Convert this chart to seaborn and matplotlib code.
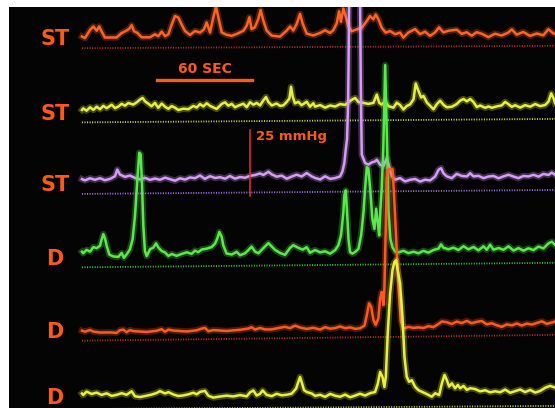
import numpy as np
import matplotlib.pyplot as plt
import seaborn as sns

# Canal 1: ST (naranja) - tiempo en s, presion en mmHg
st1_t = [0, 1.9, 5.1, 7.2, 9.3, 10.9, 12.4, 14.5, 21.9, 25.1, 28.2, 29.9, 31.4, 32.9, 35.0, 37.7,
         43.0, 46.1, 48.2, 50.4, 52.5, 54.6, 56.7, 58.8, 60.9, 63.0, 65.1, 68.3, 71.4, 74.6, 77.1,
         78.8, 80.9, 83.0, 84.7, 86.2, 88.3, 91.4, 94.6, 97.8, 102.0, 104.1, 105.8, 107.2, 109.3,
         111.4, 112.9, 114.6, 116.7, 119.9, 125.1, 129.4, 131.5, 133.5, 135.7, 137.8, 139.5, 142.0,
         146.2, 150.4, 153.6, 156.8, 158.8, 161.0, 162.5, 163.6, 165.2, 166.6, 168.3, 170.4, 173.6,
         176.8, 179.9, 182.0, 184.1, 185.6, 187.3, 189.4, 191.9, 194.7, 197.8, 201.0, 203.1, 206.2,
         210.5, 213.6, 216.8, 219.9, 223.1, 225.6, 228.4, 231.5, 236.8, 240.0, 243.1, 246.3, 249.4,
         252.6, 256.8, 261.0, 265.2, 269.4, 271.6, 274.7, 278.9, 283.1, 287.4, 291.5, 294.7, 297.9, 299]
st1_p = [4.4, 3.8, 6.9, 8.2, 6.6, 8.2, 6.3, 4.0, 4.0, 5.7, 6.6, 7.3, 8.6, 6.3, 5.7, 4.0,
         4.0, 5.1, 4.4, 6.1, 4.4, 5.1, 8.8, 12.0, 11.4, 8.8, 6.3, 4.8, 6.3, 5.7, 6.9,
         9.5, 5.7, 11.4, 15.4, 11.4, 5.7, 4.8, 4.4, 5.1, 6.3, 8.2, 11.4, 6.9, 7.6,
         10.7, 14.1, 10.1, 6.3, 4.4, 4.0, 6.3, 7.8, 6.3, 8.8, 12.6, 8.8, 5.1,
         4.4, 5.3, 6.3, 5.3, 6.3, 9.0, 13.5, 9.5, 14.5, 11.6, 7.8, 5.9, 6.6,
         7.2, 9.7, 11.6, 10.4, 12.2, 10.4, 7.2, 5.3, 5.9, 4.7, 5.3, 3.4, 5.3,
         6.6, 4.7, 5.6, 4.0, 5.3, 7.2, 5.3, 5.9, 6.3, 4.7, 5.3, 4.0, 5.3,
         4.7, 3.4, 4.7, 4.0, 5.1, 6.3, 4.3, 5.3, 3.8, 4.7, 4.0, 6.3, 4.7, 4.5]

# Canal 2: ST (amarillo)
st2_t = [0, 0.8, 2.9, 5.1, 7.2, 9.3, 11.4, 13.5, 15.6, 18.8, 20.9, 23.0, 25.1, 27.2, 29.3, 32.4,
         34.5, 36.7, 38.3, 39.8, 41.9, 44.0, 46.1, 48.2, 50.4, 52.5, 54.6, 56.7, 58.8, 60.9, 64.0,
         67.2, 70.4, 72.5, 74.6, 76.7, 78.8, 80.9, 83.0, 85.1, 88.3, 90.4, 92.5, 94.6, 96.7, 98.8,
         102.0, 104.1, 106.2, 108.3, 110.4, 112.5, 114.6, 116.3, 117.8, 119.9, 123.0, 125.2, 127.3,
         129.4, 131.1, 132.1, 133.2, 134.6, 136.7, 138.8, 142.0, 144.1, 146.2, 147.3, 150.5, 153.6,
         156.8, 160.0, 163.1, 166.3, 168.4, 170.5, 172.6, 174.7, 177.9, 181.0, 184.2, 186.3, 187.8,
         189.4, 191.5, 193.7, 196.8, 198.9, 201.0, 203.1, 205.2, 207.3, 209.5, 210.9, 212.6, 214.3,
         215.8, 217.9, 220.0, 222.1, 224.2, 226.3, 228.4, 230.5, 233.7, 236.8, 239.0, 241.1, 243.2,
         245.3, 247.4, 249.5, 251.6, 254.8, 256.9, 259.0, 262.1, 265.3, 267.4, 269.5, 271.6, 273.7,
         276.9, 280.0, 283.2, 286.4, 289.5, 292.7, 294.8, 296.5, 298.0, 299.0]
st2_p = [4.7, 5.3, 4.4, 5.7, 4.7, 5.9, 4.9, 6.2, 5.3, 6.6, 5.3, 5.9, 6.9, 6.2, 7.2, 6.6,
         7.4, 8.5, 9.1, 7.8, 6.9, 5.9, 7.2, 5.3, 6.9, 5.7, 4.9, 5.9, 5.3, 4.4, 4.9,
         4.7, 5.9, 5.3, 6.6, 5.7, 6.9, 5.9, 5.3, 4.7, 6.6, 7.2, 5.9, 6.6, 5.3, 5.9,
         6.6, 5.3, 7.2, 6.2, 6.9, 5.9, 7.8, 9.1, 7.2, 5.9, 6.6, 5.7, 5.9,
         7.2, 8.5, 12.9, 9.1, 6.6, 7.2, 5.9, 7.2, 5.3, 6.6, 5.3, 5.9, 4.9,
         5.7, 5.3, 6.2, 5.9, 6.9, 7.8, 8.5, 6.9, 6.6, 6.2, 6.6, 9.7, 6.6,
         5.9, 7.2, 5.3, 4.7, 6.6, 5.7, 4.0, 5.3, 5.9, 7.8, 13.8, 11.0, 8.5,
         9.1, 6.6, 5.3, 4.0, 5.9, 7.2, 5.7, 4.7, 4.9, 5.9, 7.2, 7.8, 6.9,
         7.8, 6.6, 4.7, 5.3, 4.4, 4.9, 4.4, 4.9, 5.3, 6.6, 5.7, 4.7, 5.3,
         4.4, 5.3, 4.7, 5.7, 4.9, 5.3, 6.6, 9.7, 7.8, 5.9]

# Canal 3: ST (violeta)
st3_t = [0, 1.9, 5.1, 8.2, 11.4, 14.5, 17.7, 20.9, 22.3, 24.0, 27.2, 30.3, 33.5, 36.7, 39.8, 43.0,
         46.1, 49.3, 52.5, 55.6, 58.8, 62.0, 65.1, 68.3, 71.4, 74.6, 77.7, 80.9, 84.1, 87.2, 90.4,
         93.5, 96.7, 99.9, 103.0, 106.2, 109.4, 112.5, 114.6, 117.8, 119.9, 123.0, 126.2, 129.4,
         132.5, 135.7, 138.8, 142.0, 145.2, 147.3, 150.5, 153.6, 156.8, 160.0, 163.1, 164.6, 165.8,
         166.7, 167.5, 168.2, 169.5, 175.2, 176.2, 176.8, 178.9, 181.0, 183.1, 185.2, 186.3, 188.4,
         190.5, 192.6, 194.1, 195.8, 197.9, 201.0, 204.2, 207.3, 210.5, 213.7, 216.8, 220.0, 223.2,
         225.3, 226.9, 228.4, 230.5, 233.7, 236.8, 240.0, 243.2, 245.3, 247.4, 250.5, 253.7, 256.9,
         260.0, 263.2, 266.3, 269.5, 272.7, 275.8, 279.0, 282.1, 285.3, 288.5, 291.6, 294.8, 296.9, 299.0]
st3_p = [5.6, 5.1, 5.9, 5.3, 5.9, 5.1, 5.6, 6.6, 9.1, 7.2, 6.3, 6.8, 5.9, 5.3, 5.9, 5.1,
         5.6, 5.1, 5.9, 5.3, 4.7, 5.6, 5.1, 5.9, 5.6, 6.6, 5.3, 6.3, 5.6, 5.9, 5.3,
         6.3, 5.3, 5.9, 5.6, 6.3, 6.6, 7.2, 6.6, 7.8, 6.8, 5.9, 6.3, 5.1,
         5.9, 6.6, 5.9, 7.2, 5.9, 5.3, 4.7, 5.9, 4.9, 5.2, 5.8, 7.7, 10.9,
         16.0, 20.0, 34.0, 110.0, 110.0, 40.0, 14.0, 10.8, 10.2, 11.0, 11.4, 12.0, 10.1,
         9.5, 12.6, 9.4, 5.7, 4.4, 5.0, 3.7, 4.3, 4.6, 3.6, 4.3, 4.0, 5.5,
         8.0, 8.6, 6.7, 5.5, 4.8, 6.4, 5.6, 5.4, 6.6, 5.4, 5.6, 4.7, 5.3,
         5.5, 4.6, 5.3, 5.9, 5.2, 4.6, 5.4, 5.2, 5.8, 5.1, 6.1, 5.7, 6.6, 5.7]

# Canal 4: D (verde)
d1_t = [0, 0.8, 2.9, 5.1, 7.2, 9.3, 11.4, 12.4, 13.5, 14.5, 15.6, 17.3, 19.8, 23.0, 25.1, 26.5,
        28.2, 30.3, 32.0, 33.5, 35.0, 36.2, 37.1, 37.9, 38.8, 39.8, 40.9, 43.0, 45.1, 46.8, 48.3,
        50.4, 52.5, 54.6, 56.7, 59.8, 63.0, 66.2, 69.3, 71.4, 73.5, 75.6, 78.8, 82.0, 84.1, 85.5,
        86.8, 88.3, 89.3, 91.4, 94.6, 97.8, 99.9, 103.0, 105.1, 107.2, 109.4, 111.5, 114.6, 117.8,
        119.9, 122.0, 125.2, 128.3, 131.5, 133.6, 136.7, 139.5, 142.0, 144.1, 147.3, 150.5, 153.6,
        156.8, 160.0, 162.0, 163.7, 165.2, 165.8, 166.7, 167.5, 168.4, 169.4, 170.9, 172.6, 174.7,
        176.4, 177.9, 178.9, 180.0, 181.0, 182.1, 183.5, 184.8, 185.9, 186.9, 187.8, 188.6, 189.4,
        190.4, 191.6, 192.8, 193.7, 194.9, 196.2, 197.9, 200.0, 203.1, 206.3, 209.5, 212.6, 215.8,
        218.9, 222.1, 225.3, 226.9, 228.4, 231.6, 234.7, 237.9, 241.1, 244.2, 247.4, 250.5, 253.7,
        255.8, 257.9, 260.0, 263.2, 266.3, 269.5, 272.7, 275.8, 279.0, 282.1, 285.3, 288.5, 291.6,
        294.8, 296.9, 299.0]
d1_p = [5.9, 5.3, 6.6, 5.9, 7.6, 7.2, 8.1, 10.4, 12.5, 11.0, 8.1, 4.7, 4.0, 3.8, 5.3, 3.4,
        4.7, 6.6, 10.4, 19.2, 33.1, 43.2, 42.6, 31.8, 15.4, 5.9, 4.0, 6.6, 7.2, 8.8, 7.2,
        5.9, 5.3, 4.0, 4.7, 4.0, 4.7, 5.3, 4.7, 5.9, 5.3, 6.3, 6.6, 7.2, 8.5, 10.4,
        12.9, 11.0, 7.8, 4.7, 4.3, 5.3, 4.0, 4.7, 5.9, 7.2, 5.3, 4.7, 6.6, 8.5,
        7.2, 5.9, 4.7, 4.0, 6.6, 7.6, 6.6, 5.9, 6.8, 4.7, 5.7, 4.8, 5.2,
        4.3, 5.6, 7.4, 11.2, 20.0, 26.3, 28.2, 20.0, 9.9, 4.8, 4.2, 4.8, 6.0,
        11.1, 19.9, 28.7, 36.9, 36.3, 28.7, 17.3, 13.5, 21.1, 16.0, 11.0, 21.0, 28.6,
        43.8, 75.5, 45.0, 20.0, 9.6, 6.5, 4.8, 4.5, 5.1, 4.2, 4.7, 4.1, 5.0,
        4.3, 5.3, 5.8, 7.4, 6.1, 5.5, 6.1, 5.2, 6.6, 5.4, 6.3, 5.0, 6.5,
        5.2, 7.1, 5.2, 5.8, 5.1, 6.4, 4.8, 5.7, 4.7, 5.6, 4.9, 6.2, 5.5,
        7.4, 8.0, 6.7]

# Canal 5: D (naranja)
d2_t = [0, 1.9, 5.1, 7.2, 11.4, 17.7, 21.9, 24.0, 26.1, 28.2, 30.3, 32.4, 40.9, 47.2, 50.4, 52.5,
        54.6, 57.7, 66.2, 72.5, 75.6, 77.7, 79.9, 83.0, 91.4, 99.9, 105.1, 107.2, 109.4, 112.5,
        115.7, 119.9, 125.2, 128.3, 131.5, 134.6, 137.8, 142.0, 146.2, 150.5, 153.6, 156.8, 160.0,
        163.1, 166.3, 169.4, 172.6, 175.7, 178.5, 180.0, 181.4, 182.7, 184.2, 185.6, 187.3, 188.4,
        189.4, 190.5, 191.1, 191.9, 192.6, 193.5, 196.3, 197.5, 199.5, 201.5, 203.1, 206.3, 209.5,
        212.6, 215.8, 218.9, 222.1, 225.3, 227.4, 230.5, 233.7, 236.8, 240.0, 243.2, 246.3, 249.5,
        252.6, 255.8, 259.0, 262.1, 265.3, 268.5, 271.6, 274.8, 277.9, 281.1, 284.3, 287.4, 290.6,
        293.7, 296.9, 299.0]
d2_p = [3.8, 3.4, 4.0, 3.4, 3.0, 3.0, 2.8, 3.8, 4.0, 3.0, 3.8, 3.4, 3.0, 3.4, 4.0, 3.0,
        3.8, 3.4, 3.0, 3.4, 4.0, 4.3, 3.0, 3.4, 3.0, 3.4, 3.8, 4.3, 3.4, 4.0,
        3.4, 3.4, 4.0, 4.3, 3.8, 4.7, 4.0, 3.4, 3.8, 3.1, 4.0, 3.4, 3.6,
        4.2, 3.5, 3.8, 3.2, 3.4, 4.4, 8.4, 12.8, 11.6, 6.5, 4.6, 7.1, 14.6,
        17.1, 12.1, 18.4, 40.0, 60.0, 63.5, 63.5, 50.0, 25.0, 6.0, 3.1, 3.7, 3.3,
        3.5, 3.2, 3.9, 3.5, 4.7, 5.6, 5.3, 4.6, 5.5, 4.9, 5.7, 4.8, 5.3,
        5.6, 4.3, 4.7, 3.9, 3.3, 4.2, 3.8, 4.5, 3.7, 4.4, 4.0, 4.6, 5.2,
        4.2, 4.7, 5.1]

# Canal 6: D (amarillo)
d3_t = [0, 0.8, 2.9, 6.1, 9.3, 12.4, 15.6, 18.8, 21.9, 25.1, 28.2, 31.4, 33.5, 36.7, 40.9, 44.0,
        47.2, 49.3, 52.5, 54.6, 57.7, 60.9, 64.0, 67.2, 70.4, 72.5, 74.6, 77.7, 79.9, 83.0, 87.2,
        91.4, 95.7, 99.9, 104.1, 106.2, 108.3, 110.4, 112.5, 114.2, 116.7, 119.9, 123.0, 126.2,
        129.4, 132.5, 135.3, 136.7, 137.8, 138.8, 140.3, 142.0, 145.2, 147.3, 150.5, 153.6, 156.8,
        160.0, 163.1, 166.3, 169.4, 172.6, 175.7, 178.9, 182.1, 185.2, 186.9, 188.4, 189.9, 191.1,
        192.0, 193.2, 194.7, 196.2, 197.4, 198.5, 199.5, 201.0, 202.5, 203.8, 205.2, 206.7, 208.4,
        210.5, 212.6, 214.7, 217.9, 221.0, 223.2, 225.7, 227.4, 229.1, 230.5, 232.0, 233.7, 235.8,
        237.5, 239.0, 241.1, 243.2, 245.3, 248.4, 251.6, 254.8, 257.9, 261.1, 264.2, 267.4, 270.6,
        273.7, 276.9, 280.0, 283.2, 286.4, 289.5, 292.7, 295.8, 299.0]
d3_p = [5.9, 5.3, 6.6, 5.7, 6.2, 5.3, 5.9, 4.9, 5.3, 5.9, 5.3, 6.6, 4.7, 4.4, 4.9, 5.3,
        5.9, 6.6, 5.7, 6.2, 5.3, 4.7, 4.9, 5.3, 5.9, 5.3, 6.2, 6.6, 4.7, 4.0, 4.4,
        4.7, 4.4, 4.9, 4.4, 5.9, 6.6, 4.7, 5.3, 6.6, 4.9, 4.4, 5.3, 4.7,
        4.9, 5.3, 7.2, 9.7, 11.6, 9.7, 6.6, 5.9, 5.3, 4.4, 4.8, 4.0, 5.1,
        4.4, 4.0, 4.8, 3.8, 4.4, 5.1, 4.4, 5.3, 5.7, 8.8, 13.3, 11.4, 7.6,
        11.4, 27.8, 42.9, 51.8, 54.9, 55.6, 51.8, 46.7, 34.1, 18.9, 11.4, 9.5, 10.1,
        7.6, 6.3, 5.7, 4.8, 3.8, 5.1, 4.4, 8.8, 12.0, 10.1, 7.6, 8.8, 6.9,
        8.2, 6.9, 7.8, 6.3, 6.9, 6.6, 5.7, 6.1, 5.3, 5.7, 5.3, 6.3, 5.1,
        5.7, 6.3, 5.3, 6.1, 5.1, 5.7, 6.9, 7.6, 6.9]

canales = ['ST', 'ST', 'ST', 'D', 'D', 'D']
escala_tiempo = 60      # s
escala_presion = 25     # mmHg

# Disposicion: linea cero de cada canal (inicio, fin), colores, altura de etiqueta
bases = [(136.3, 137.2), (108.2, 109.5), (81.1, 82.6), (53.3, 55.0), (25.5, 27.7), (-0.4, 0.8)]
alto_etiqueta = [3.3, 3.3, 3.3, 3.3, 3.3, 4.1]
colores = ['#ff6426', '#e6f040', '#d69cf7', '#5ae84c', '#ff5a1e', '#e8f040']
colores_cero = ['#b83020', '#c6d838', '#a070e0', '#38c038', '#b83020', '#b8c830']
naranja = '#ff5a1a'
fuente = ['Liberation Sans Narrow', 'DejaVu Sans']

series = [(st1_t, st1_p), (st2_t, st2_p), (st3_t, st3_p),
          (d1_t, d1_p), (d2_t, d2_p), (d3_t, d3_p)]
T_FIN = 299.0


def linea_cero(t, base):
    t = np.asarray(t, dtype=float)
    return base[0] + (base[1] - base[0]) * t / T_FIN


fig = plt.figure(figsize=(5.55, 4.08), dpi=100, facecolor='white')
ax = fig.add_axes([9 / 555, 0, 546 / 555, 401 / 408])
ax.set_facecolor('#040404')

for (t, p), base, col, col0 in zip(series, bases, colores, colores_cero):
    # linea de referencia punteada
    t0 = np.array([0, T_FIN])
    sns.lineplot(x=t0, y=linea_cero(t0, base), color=col0, lw=1.3,
                 linestyle=(0, (0.6, 0.8)), estimator=None, ax=ax)

for (t, p), base, col in zip(series, bases, colores):
    y = np.asarray(p) + linea_cero(t, base)
    # brillo de la pantalla
    sns.lineplot(x=t, y=y, color=col, lw=4.6, alpha=0.28, estimator=None, sort=False, ax=ax)
    sns.lineplot(x=t, y=y, color=col, lw=1.8, estimator=None, sort=False, ax=ax)

# Etiquetas de los canales
for nombre, base, alto in zip(canales, bases, alto_etiqueta):
    ax.text(-17, base[0] + alto, nombre, color=naranja, fontsize=15, fontweight='bold',
            family=fuente, ha='center', va='center')

# Barra de tiempo (60 SEC)
t_ini = 47.4
sns.lineplot(x=[t_ini, t_ini + escala_tiempo], y=[124.2, 124.2], color=naranja, lw=2.4,
             estimator=None, ax=ax)
ax.text(t_ini + escala_tiempo / 2, 125.6, f'{escala_tiempo} SEC', color=naranja, fontsize=10,
        fontweight='bold', family=fuente, ha='center', va='bottom')

# Barra de presion (25 mmHg)
p_ini = 80.3
sns.lineplot(x=[106.2, 106.2], y=[p_ini, p_ini + escala_presion], color='#e83414', lw=1.1,
             estimator=None, sort=False, ax=ax)
ax.text(110, 102.7, f'{escala_presion} mmHg', color=naranja, fontsize=9.5, fontweight='bold',
        family=fuente, ha='left', va='center')

ax.set_xlim(-46.1, 298.9)
ax.set_ylim(0, 151.9)
ax.set_xlabel('')
ax.set_ylabel('')
ax.set_xticks([])
ax.set_yticks([])
for spine in ax.spines.values():
    spine.set_visible(False)

fig.savefig('out.png', dpi=100, facecolor='white')
